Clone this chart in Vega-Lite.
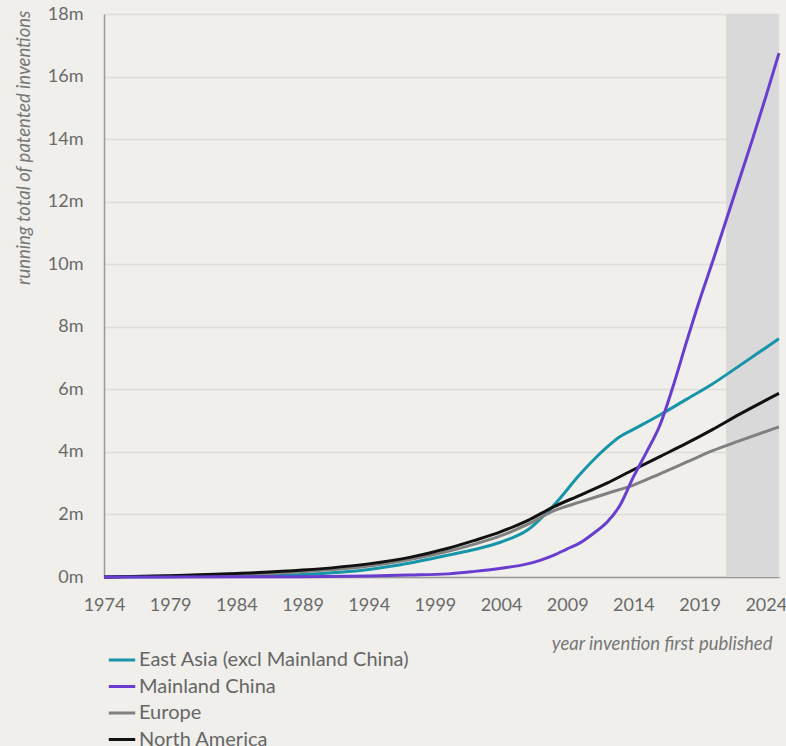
{
  "$schema": "https://vega.github.io/schema/vega-lite/v6.json",
  "width": 675,
  "height": 563,
  "autosize": {"type": "none"},
  "padding": {"left": 104, "top": 14, "right": 7, "bottom": 169},
  "background": "#f0efeb",
  "config": {
    "view": {"stroke": null},
    "font": "Lato",
    "axis": {
      "labelFont": "Lato",
      "labelFontSize": 18,
      "labelColor": "#6a6a6a",
      "titleFont": "Lato",
      "titleFontSize": 18.5,
      "titleFontStyle": "italic",
      "titleFontWeight": "normal",
      "titleColor": "#777777",
      "domainColor": "#999999",
      "domainWidth": 1.5,
      "ticks": false
    }
  },
  "layer": [
    {
      "data": {"values": [{"start": 2021, "end": 2025}]},
      "mark": {"type": "rect", "color": "#d9d9d9"},
      "encoding": {
        "x": {"field": "start", "type": "quantitative"},
        "x2": {"field": "end"}
      }
    },
    {
      "data": {"values": [
        {"year": 1974, "region": "East Asia (excl Mainland China)", "total": 0},
        {"year": 1979, "region": "East Asia (excl Mainland China)", "total": 0.01},
        {"year": 1984, "region": "East Asia (excl Mainland China)", "total": 0.03},
        {"year": 1989, "region": "East Asia (excl Mainland China)", "total": 0.08},
        {"year": 1994, "region": "East Asia (excl Mainland China)", "total": 0.24},
        {"year": 1997, "region": "East Asia (excl Mainland China)", "total": 0.44},
        {"year": 2000, "region": "East Asia (excl Mainland China)", "total": 0.7},
        {"year": 2002, "region": "East Asia (excl Mainland China)", "total": 0.88},
        {"year": 2004, "region": "East Asia (excl Mainland China)", "total": 1.12},
        {"year": 2006, "region": "East Asia (excl Mainland China)", "total": 1.5},
        {"year": 2008, "region": "East Asia (excl Mainland China)", "total": 2.3},
        {"year": 2010, "region": "East Asia (excl Mainland China)", "total": 3.3},
        {"year": 2011, "region": "East Asia (excl Mainland China)", "total": 3.75},
        {"year": 2012, "region": "East Asia (excl Mainland China)", "total": 4.15},
        {"year": 2013, "region": "East Asia (excl Mainland China)", "total": 4.49},
        {"year": 2014, "region": "East Asia (excl Mainland China)", "total": 4.72},
        {"year": 2016, "region": "East Asia (excl Mainland China)", "total": 5.18},
        {"year": 2018, "region": "East Asia (excl Mainland China)", "total": 5.68},
        {"year": 2020, "region": "East Asia (excl Mainland China)", "total": 6.18},
        {"year": 2022, "region": "East Asia (excl Mainland China)", "total": 6.75},
        {"year": 2025, "region": "East Asia (excl Mainland China)", "total": 7.62},
        {"year": 1974, "region": "Europe", "total": 0},
        {"year": 1979, "region": "Europe", "total": 0.03},
        {"year": 1984, "region": "Europe", "total": 0.08},
        {"year": 1989, "region": "Europe", "total": 0.17},
        {"year": 1994, "region": "Europe", "total": 0.35},
        {"year": 1997, "region": "Europe", "total": 0.55},
        {"year": 2000, "region": "Europe", "total": 0.82},
        {"year": 2002, "region": "Europe", "total": 1.05},
        {"year": 2004, "region": "Europe", "total": 1.32},
        {"year": 2006, "region": "Europe", "total": 1.68},
        {"year": 2008, "region": "Europe", "total": 2.12},
        {"year": 2010, "region": "Europe", "total": 2.4},
        {"year": 2012, "region": "Europe", "total": 2.67},
        {"year": 2014, "region": "Europe", "total": 2.94},
        {"year": 2016, "region": "Europe", "total": 3.3},
        {"year": 2018, "region": "Europe", "total": 3.67},
        {"year": 2020, "region": "Europe", "total": 4.04},
        {"year": 2022, "region": "Europe", "total": 4.35},
        {"year": 2025, "region": "Europe", "total": 4.8},
        {"year": 1974, "region": "North America", "total": 0},
        {"year": 1979, "region": "North America", "total": 0.04},
        {"year": 1984, "region": "North America", "total": 0.11},
        {"year": 1989, "region": "North America", "total": 0.22},
        {"year": 1994, "region": "North America", "total": 0.42},
        {"year": 1997, "region": "North America", "total": 0.62},
        {"year": 2000, "region": "North America", "total": 0.92},
        {"year": 2002, "region": "North America", "total": 1.17},
        {"year": 2004, "region": "North America", "total": 1.45},
        {"year": 2006, "region": "North America", "total": 1.8},
        {"year": 2008, "region": "North America", "total": 2.25},
        {"year": 2010, "region": "North America", "total": 2.62},
        {"year": 2012, "region": "North America", "total": 3.0},
        {"year": 2014, "region": "North America", "total": 3.43},
        {"year": 2016, "region": "North America", "total": 3.85},
        {"year": 2018, "region": "North America", "total": 4.27},
        {"year": 2020, "region": "North America", "total": 4.72},
        {"year": 2022, "region": "North America", "total": 5.2},
        {"year": 2025, "region": "North America", "total": 5.87},
        {"year": 1974, "region": "Mainland China", "total": 0},
        {"year": 1984, "region": "Mainland China", "total": 0.005},
        {"year": 1989, "region": "Mainland China", "total": 0.01},
        {"year": 1994, "region": "Mainland China", "total": 0.03},
        {"year": 1997, "region": "Mainland China", "total": 0.06},
        {"year": 2000, "region": "Mainland China", "total": 0.1},
        {"year": 2002, "region": "Mainland China", "total": 0.18},
        {"year": 2004, "region": "Mainland China", "total": 0.28},
        {"year": 2006, "region": "Mainland China", "total": 0.42},
        {"year": 2007, "region": "Mainland China", "total": 0.54},
        {"year": 2008, "region": "Mainland China", "total": 0.7},
        {"year": 2009, "region": "Mainland China", "total": 0.9},
        {"year": 2010, "region": "Mainland China", "total": 1.1},
        {"year": 2011, "region": "Mainland China", "total": 1.4},
        {"year": 2012, "region": "Mainland China", "total": 1.75},
        {"year": 2013, "region": "Mainland China", "total": 2.3},
        {"year": 2014, "region": "Mainland China", "total": 3.2},
        {"year": 2015, "region": "Mainland China", "total": 4.0},
        {"year": 2016, "region": "Mainland China", "total": 4.85},
        {"year": 2017, "region": "Mainland China", "total": 6.1},
        {"year": 2018, "region": "Mainland China", "total": 7.5},
        {"year": 2019, "region": "Mainland China", "total": 8.85},
        {"year": 2020, "region": "Mainland China", "total": 10.1},
        {"year": 2021, "region": "Mainland China", "total": 11.4},
        {"year": 2022, "region": "Mainland China", "total": 12.7},
        {"year": 2023, "region": "Mainland China", "total": 14.0},
        {"year": 2024, "region": "Mainland China", "total": 15.35},
        {"year": 2025, "region": "Mainland China", "total": 16.75}
      ]},
      "mark": {"type": "line", "interpolate": "monotone", "strokeWidth": 3},
      "encoding": {
        "x": {
          "field": "year", "type": "quantitative",
          "scale": {"domain": [1974, 2025], "nice": false, "zero": false},
          "axis": {
            "values": [1974, 1979, 1984, 1989, 1994, 1999, 2004, 2009, 2014, 2019, 2024],
            "format": "d",
            "grid": false,
            "labelFlush": false,
            "labelPadding": 19,
            "title": "year invention first published",
            "titleAnchor": "end",
            "titleAlign": "right",
            "titleBaseline": "alphabetic",
            "titleX": 668,
            "titleY": 72
          }
        },
        "y": {
          "field": "total", "type": "quantitative",
          "scale": {"domain": [0, 18], "nice": false},
          "axis": {
            "values": [0, 2, 4, 6, 8, 10, 12, 14, 16, 18],
            "labelExpr": "datum.value + 'm'",
            "grid": true,
            "gridColor": "#dddcd8",
            "gridWidth": 1.5,
            "labelPadding": 21,
            "title": "running total of patented inventions",
            "titleAngle": -90,
            "titleAlign": "right",
            "titleBaseline": "alphabetic",
            "titleX": -75,
            "titleY": -4
          }
        },
        "color": {
          "field": "region", "type": "nominal",
          "scale": {
            "domain": ["East Asia (excl Mainland China)", "Mainland China", "Europe", "North America"],
            "range": ["#1795a8", "#6a3dd1", "#808080", "#111111"]
          },
          "legend": {
            "title": null,
            "orient": "none",
            "legendX": 3,
            "legendY": 631,
            "padding": 0,
            "symbolType": "stroke",
            "symbolSize": 700,
            "symbolStrokeWidth": 3,
            "labelFont": "Lato",
            "labelFontSize": 20,
            "labelColor": "#666666",
            "labelOffset": 2,
            "rowPadding": 1.5,
            "labelLimit": 400
          }
        }
      }
    }
  ]
}
